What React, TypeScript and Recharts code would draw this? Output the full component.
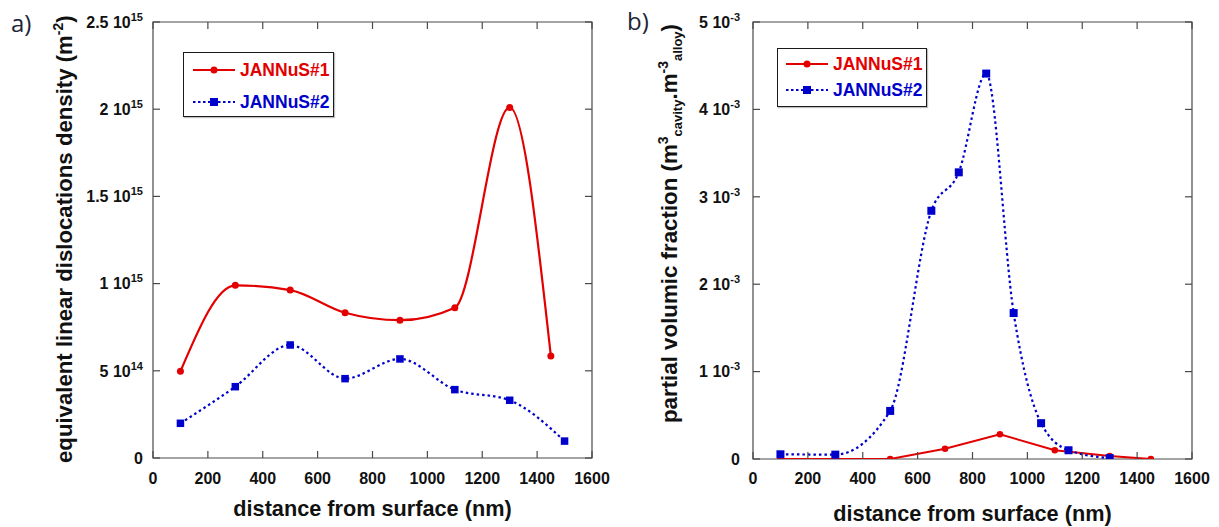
import React from 'react';
import { LineChart, Line, XAxis, YAxis, Legend, Label, ReferenceArea } from 'recharts';

// ---------- data ----------
const xTicks = [0, 200, 400, 600, 800, 1000, 1200, 1400, 1600];
const seriesNames = ['JANNuS#1', 'JANNuS#2'];

// panel a) equivalent linear dislocations density (m^-2)
const depthA1 = [100, 300, 500, 700, 900, 1100, 1300, 1450];
const densityA1 = [4.97e14, 9.9e14, 9.63e14, 8.33e14, 7.9e14, 8.62e14, 2.01e15, 5.85e14];
const depthA2 = [100, 300, 500, 700, 900, 1100, 1300, 1500];
const densityA2 = [1.99e14, 4.09e14, 6.48e14, 4.55e14, 5.68e14, 3.92e14, 3.31e14, 9.7e13];
const densityTicks = [0, 5e14, 1e15, 1.5e15, 2e15, 2.5e15];
const densityTickLabels: [string, string][] = [
  ['0', ''], ['5 10', '14'], ['1 10', '15'], ['1.5 10', '15'], ['2 10', '15'], ['2.5 10', '15'],
];

// panel b) partial volumic fraction
const depthB1 = [100, 300, 500, 700, 900, 1100, 1300, 1450];
const fractionB1 = [0, 0, 0, 1.18e-4, 2.83e-4, 1.0e-4, 3.4e-5, 0];
const depthB2 = [100, 300, 500, 650, 750, 850, 950, 1050, 1150, 1300];
const fractionB2 = [5.4e-5, 5e-5, 5.5e-4, 2.84e-3, 3.28e-3, 4.41e-3, 1.67e-3, 4.1e-4, 1.0e-4, 1e-5];
const fractionTicks = [0, 1e-3, 2e-3, 3e-3, 4e-3, 5e-3];
const fractionTickLabels: [string, string][] = [
  ['0', ''], ['1 10', '-3'], ['2 10', '-3'], ['3 10', '-3'], ['4 10', '-3'], ['5 10', '-3'],
];

const toPoints = (xs: number[], ys: number[]) => xs.map((x, i) => ({ x, y: ys[i] }));
const seriesA1 = toPoints(depthA1, densityA1);
const seriesA2 = toPoints(depthA2, densityA2);
const seriesB1 = toPoints(depthB1, fractionB1);
const seriesB2 = toPoints(depthB2, fractionB2);

// ---------- style ----------
const FONT = '"Liberation Sans", Arial, Helvetica, sans-serif';
const RED = '#e30000';
const BLUE = '#0000cc';
const FRAME = '#4a4a4a';
const TEXT = '#111111';
const TICK_LEN = 7;
const PLOT_TOP = 22;

// bottom tick label + inward tick marks on bottom and top of the frame
const makeXTick = (margin: number) => (props: any) => {
  const { x, y, payload } = props;
  const axisY = y - margin;
  return (
    <g>
      <line x1={x} x2={x} y1={axisY} y2={axisY - TICK_LEN} stroke={FRAME} strokeWidth={1.2} />
      <line x1={x} x2={x} y1={PLOT_TOP} y2={PLOT_TOP + TICK_LEN} stroke={FRAME} strokeWidth={1.2} />
      <text x={x} y={y} dy="0.71em" textAnchor="middle" fontSize={16} fontWeight="bold" fill={TEXT} fontFamily={FONT}>
        {payload.value}
      </text>
    </g>
  );
};

// left tick label (mantissa + superscript exponent) + inward ticks on left and right of the frame
const makeYTick = (ticks: number[], labels: [string, string][], margin: number, plotRight: number) => (props: any) => {
  const { x, y, payload } = props;
  const axisX = x + margin;
  const i = ticks.indexOf(payload.value);
  const [m, e] = i >= 0 ? labels[i] : [String(payload.value), ''];
  return (
    <g>
      <line x1={axisX} x2={axisX + TICK_LEN} y1={y} y2={y} stroke={FRAME} strokeWidth={1.2} />
      <line x1={plotRight} x2={plotRight - TICK_LEN} y1={y} y2={y} stroke={FRAME} strokeWidth={1.2} />
      <text x={x} y={y} dy="0.36em" textAnchor="end" fontSize={16} fontWeight="bold" fill={TEXT} fontFamily={FONT}>
        <tspan>{m}</tspan>
        {e ? <tspan dy={-7} fontSize={11}>{e}</tspan> : null}
      </text>
    </g>
  );
};

const SquareDot = (size: number) => (props: any) => {
  const { cx, cy, index } = props;
  if (cx == null || cy == null) return <g key={`sq-${index}`} />;
  return <rect key={`sq-${index}`} x={cx - size / 2} y={cy - size / 2} width={size} height={size} fill={BLUE} />;
};

const LegendBox = ({ width, height, row1, row2, lineFrom, lineTo, textX }: any) => (
  <div
    style={{
      position: 'relative', width, height, boxSizing: 'border-box', border: '1.5px solid #1a1a1a',
      background: '#fff', boxShadow: '1px 1px 1px rgba(0,0,0,0.25)',
    }}
  >
    <svg width={width} height={height} style={{ position: 'absolute', left: -1.5, top: -1.5 }}>
      <line x1={lineFrom} x2={lineTo} y1={row1} y2={row1} stroke={RED} strokeWidth={2} />
      <circle cx={(lineFrom + lineTo) / 2} cy={row1} r={3.5} fill={RED} />
      <line x1={lineFrom} x2={lineTo} y1={row2} y2={row2} stroke={BLUE} strokeWidth={2} strokeDasharray="2.5 2.5" />
      <rect x={(lineFrom + lineTo) / 2 - 4} y={row2 - 4} width={8} height={8} fill={BLUE} />
      <text x={textX} y={row1} dy="0.36em" fontSize={17.5} fontWeight="bold" fill={RED} fontFamily={FONT}>
        {seriesNames[0]}
      </text>
      <text x={textX} y={row2} dy="0.36em" fontSize={17.5} fontWeight="bold" fill={BLUE} fontFamily={FONT}>
        {seriesNames[1]}
      </text>
    </svg>
  </div>
);

const XTitle = (cy: number) => (props: any) => {
  const vb = props.viewBox || {};
  return (
    <text x={vb.x + vb.width / 2} y={cy} dy="0.36em" textAnchor="middle" fontSize={21.7} fontWeight="bold" fill={TEXT} fontFamily={FONT}>
      distance from surface (nm)
    </text>
  );
};

// coordinates are relative to panel a's svg (panel a sits at page x = 0)
const LeftYTitle = () => (
  <text transform="translate(72, 463) rotate(-90)" textAnchor="start" fontSize={22.2} fontWeight="bold" fill={TEXT} fontFamily={FONT}>
    <tspan>equivalent linear dislocations density (m</tspan>
    <tspan dy={-9} fontSize={14}>-2</tspan>
    <tspan dy={9}>)</tspan>
  </text>
);

// coordinates are relative to panel b's svg (panel b sits at page x = 610)
const RightYTitle = () => (
  <text transform="translate(67, 423) rotate(-90)" textAnchor="start" fontSize={22.3} fontWeight="bold" fill={TEXT} fontFamily={FONT}>
    <tspan>partial volumic fraction (m</tspan>
    <tspan dy={-9} fontSize={14}>3</tspan>
    <tspan dy={14} fontSize={13}>cavity</tspan>
    <tspan dy={-5}>.m</tspan>
    <tspan dy={-9} fontSize={14}>-3</tspan>
    <tspan dy={14} fontSize={13}>alloy</tspan>
    <tspan dy={-5}>)</tspan>
  </text>
);

export default function App() {
  return (
    <div style={{ position: 'absolute', left: 0, top: 0, width: 1219, height: 527, background: '#fff' }}>
      <div style={{ position: 'absolute', left: 11, top: 6, fontFamily: '"Open Sans", "Liberation Sans", sans-serif', fontSize: 24, color: '#1c2436' }}>
        a)
      </div>
      <div style={{ position: 'absolute', left: 627, top: 4, fontFamily: '"Open Sans", "Liberation Sans", sans-serif', fontSize: 24, color: '#1c2436' }}>
        b)
      </div>

      {/* panel a */}
      <div style={{ position: 'absolute', left: 0, top: 0 }}>
        <LineChart width={610} height={527} margin={{ top: PLOT_TOP, right: 18, bottom: 0, left: 0 }}>
          <XAxis xAxisId="b" dataKey="x" type="number" domain={[0, 1600]} ticks={xTicks} allowDataOverflow
            height={69} tickSize={0} tickMargin={15} axisLine={false} tickLine={false} tick={makeXTick(15)} interval={0}>
            <Label content={XTitle(508)} />
          </XAxis>
          <YAxis yAxisId="l" type="number" domain={[0, 2.5e15]} ticks={densityTicks} allowDataOverflow
            width={153} tickSize={0} tickMargin={10} axisLine={false} tickLine={false}
            tick={makeYTick(densityTicks, densityTickLabels, 10, 592)} interval={0}>
            <Label content={LeftYTitle} />
          </YAxis>
          <ReferenceArea xAxisId="b" yAxisId="l" x1={0} x2={1600} y1={0} y2={2.5e15}
            fill="none" fillOpacity={0} stroke={FRAME} strokeWidth={1.2} ifOverflow="visible" />
          <Legend layout="vertical" verticalAlign="middle" align="center"
            wrapperStyle={{ left: 183, top: 52, width: 151, height: 65 }}
            content={() => <LegendBox width={151} height={65} row1={18} row2={50} lineFrom={10} lineTo={52} textX={57} />} />
          <Line data={seriesA1} xAxisId="b" yAxisId="l" dataKey="y" name={seriesNames[0]} type="monotone"
            stroke={RED} strokeWidth={2.2} dot={{ r: 3.5, fill: RED, stroke: RED, strokeWidth: 0 }} isAnimationActive={false} />
          <Line data={seriesA2} xAxisId="b" yAxisId="l" dataKey="y" name={seriesNames[1]} type="monotone"
            stroke={BLUE} strokeWidth={2.2} strokeDasharray="2.5 3" dot={SquareDot(7.5)} isAnimationActive={false} />
        </LineChart>
      </div>

      {/* panel b */}
      <div style={{ position: 'absolute', left: 610, top: 0 }}>
        <LineChart width={609} height={527} margin={{ top: PLOT_TOP, right: 27, bottom: 0, left: 0 }}>
          <XAxis xAxisId="b" dataKey="x" type="number" domain={[0, 1600]} ticks={xTicks} allowDataOverflow
            height={68} tickSize={0} tickMargin={14} axisLine={false} tickLine={false} tick={makeXTick(14)} interval={0}>
            <Label content={XTitle(513)} />
          </XAxis>
          <YAxis yAxisId="l" type="number" domain={[0, 5e-3]} ticks={fractionTicks} allowDataOverflow
            width={143} tickSize={0} tickMargin={13} axisLine={false} tickLine={false}
            tick={makeYTick(fractionTicks, fractionTickLabels, 13, 582)} interval={0}>
            <Label content={RightYTitle} />
          </YAxis>
          <ReferenceArea xAxisId="b" yAxisId="l" x1={0} x2={1600} y1={0} y2={5e-3}
            fill="none" fillOpacity={0} stroke={FRAME} strokeWidth={1.2} ifOverflow="visible" />
          <Legend layout="vertical" verticalAlign="middle" align="center"
            wrapperStyle={{ left: 167, top: 48, width: 150, height: 59 }}
            content={() => <LegendBox width={150} height={59} row1={16} row2={42} lineFrom={9} lineTo={51} textX={56} />} />
          <Line data={seriesB1} xAxisId="b" yAxisId="l" dataKey="y" name={seriesNames[0]} type="linear"
            stroke={RED} strokeWidth={2} dot={{ r: 3.3, fill: RED, stroke: RED, strokeWidth: 0 }} isAnimationActive={false} />
          <Line data={seriesB2} xAxisId="b" yAxisId="l" dataKey="y" name={seriesNames[1]} type="monotone"
            stroke={BLUE} strokeWidth={2.2} strokeDasharray="2.5 3" dot={SquareDot(8)} isAnimationActive={false} />
        </LineChart>
      </div>
    </div>
  );
}
